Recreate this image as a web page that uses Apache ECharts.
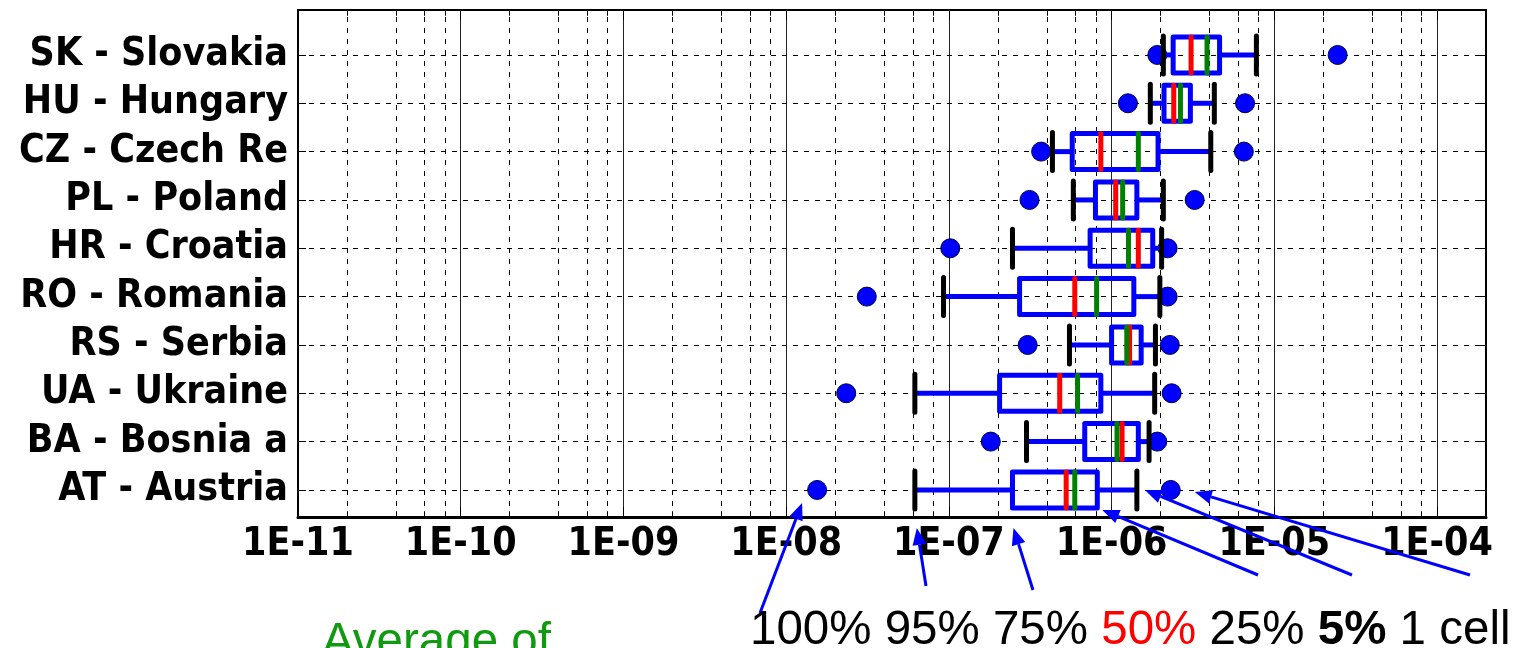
<!DOCTYPE html>
<html>
<head>
<meta charset="utf-8">
<script src="https://cdn.jsdelivr.net/npm/echarts@6/dist/echarts.min.js"></script>
<style>
html,body{margin:0;padding:0;background:#fff;}
#main{width:1517px;height:648px;}
</style>
</head>
<body>
<div id="main"></div>
<script>
// Categories (bottom to top)
const categories = ['AT - Austria','BA - Bosnia a','UA - Ukraine','RS - Serbia','RO - Romania','HR - Croatia','PL - Poland','CZ - Czech Re','HU - Hungary','SK - Slovakia'];
// Exceedance statistics per country (same order as categories)
const p100    = [1.55e-8, 1.81e-7, 2.34e-8, 3.05e-7, 3.13e-8, 1.02e-7, 3.13e-7, 3.69e-7, 1.26e-6, 1.91e-6];
const p95     = [6.18e-8, 3.00e-7, 6.18e-8, 5.51e-7, 9.27e-8, 2.46e-7, 5.82e-7, 4.33e-7, 1.73e-6, 2.08e-6];
const p75     = [2.46e-7, 6.84e-7, 2.05e-7, 1.00e-6, 2.72e-7, 7.38e-7, 7.96e-7, 5.73e-7, 2.10e-6, 2.39e-6];
const p50     = [5.26e-7, 1.16e-6, 4.80e-7, 1.29e-6, 5.94e-7, 1.46e-6, 1.06e-6, 8.59e-7, 2.41e-6, 3.08e-6];
const average = [5.94e-7, 1.08e-6, 6.18e-7, 1.24e-6, 8.09e-7, 1.27e-6, 1.17e-6, 1.46e-6, 2.65e-6, 3.86e-6];
const p25     = [8.17e-7, 1.46e-6, 8.59e-7, 1.52e-6, 1.37e-6, 1.79e-6, 1.43e-6, 1.93e-6, 3.05e-6, 4.61e-6];
const p5      = [1.43e-6, 1.70e-6, 1.84e-6, 1.86e-6, 1.98e-6, 2.03e-6, 2.08e-6, 4.07e-6, 4.28e-6, 7.76e-6];
const oneCell = [2.31e-6, 1.91e-6, 2.34e-6, 2.28e-6, 2.21e-6, 2.21e-6, 3.24e-6, 6.50e-6, 6.61e-6, 2.45e-5];
// Axis settings
const xMin = 1e-11, xMax = 2e-4;
const decades = [-11, -10, -9, -8, -7, -6, -5, -4];
const minorMultipliers = [2, 4, 6, 8];
const rowPositions = categories.map((c, i) => i + 1);
const yMin = 0.44, yMax = 10.93;

const FONT = "'DejaVu Sans Condensed', 'DejaVu Sans'";
const BLUE = '#0000ff', RED = '#ff0000', GREEN = '#008000';

const boxData = categories.map((c, i) => [p95[i], p75[i], p50[i], average[i], p25[i], p5[i], i + 1]);
const dotData = [];
categories.forEach((c, i) => { dotData.push([p100[i], i + 1]); dotData.push([oneCell[i], i + 1]); });

const minorVals = [];
decades.forEach(d => minorMultipliers.forEach(m => { const v = m * Math.pow(10, d); if (v < xMax * 0.999) minorVals.push(v); }));

function fmtX(v) {
  const l = Math.log10(v);
  const e = Math.round(l);
  if (Math.abs(l - e) > 0.01) return '';
  const a = Math.abs(e);
  return '1E' + (e < 0 ? '-' : '+') + (a < 10 ? '0' + a : '' + a);
}

function renderBox(params, api) {
  const y = api.value(6);
  const c95 = api.coord([api.value(0), y]);
  const c75 = api.coord([api.value(1), y]);
  const c50 = api.coord([api.value(2), y]);
  const cav = api.coord([api.value(3), y]);
  const c25 = api.coord([api.value(4), y]);
  const c5 = api.coord([api.value(5), y]);
  const h = 18, hc = 19;
  const lw = 5;
  const yy = c50[1];
  function vline(x, hh, color) {
    return { type: 'line', shape: { x1: x, y1: yy - hh, x2: x, y2: yy + hh }, style: { stroke: color, lineWidth: lw, lineCap: 'round' } };
  }
  return {
    type: 'group',
    children: [
      { type: 'line', shape: { x1: c95[0], y1: yy, x2: c75[0], y2: yy }, style: { stroke: BLUE, lineWidth: lw } },
      { type: 'line', shape: { x1: c25[0], y1: yy, x2: c5[0], y2: yy }, style: { stroke: BLUE, lineWidth: lw } },
      vline(c95[0], hc, '#000'),
      vline(c5[0], hc, '#000'),
      { type: 'rect', shape: { x: c75[0], y: yy - h, width: c25[0] - c75[0], height: 2 * h }, style: { fill: 'none', stroke: BLUE, lineWidth: lw, lineJoin: 'round' } },
      vline(c50[0], h, RED),
      vline(cav[0], h, GREEN)
    ]
  };
}

const chart = echarts.init(document.getElementById('main'));

const vGridSegs = minorVals.map(v => [{ coord: [v, yMin] }, { coord: [v, yMax] }]);
const hGridSegs = rowPositions.map(r => [{ coord: [xMin, r] }, { coord: [xMax, r] }]);
const tickSegs = minorVals.map(v => [{ coord: [v, yMin] }, { coord: [v, yMin + 0.12] }]);
const topTickSegs = minorVals.map(v => [{ coord: [v, yMax] }, { coord: [v, yMax - 0.12] }]);

const yAxisCommon = {
  type: 'value', min: yMin, max: yMax,
  axisLine: { show: true, lineStyle: { color: '#000', width: 2 } },
  splitLine: { show: false },
  axisTick: { show: true, inside: true, length: 8, customValues: rowPositions, lineStyle: { color: '#000', width: 1 } }
};

chart.setOption({
  animation: false,
  backgroundColor: '#fff',
  grid: { left: 298, right: 31, top: 10, bottom: 131, show: false },
  xAxis: [{
    type: 'log', logBase: 10, min: xMin, max: xMax,
    axisLine: { show: true, lineStyle: { color: '#000', width: 3 } },
    axisTick: { show: true, inside: true, length: 10, lineStyle: { color: '#000', width: 1 } },
    axisLabel: { formatter: fmtX, fontFamily: FONT, fontWeight: 'bold', fontSize: 39, color: '#000', margin: 8 },
    splitLine: { show: true, lineStyle: { color: '#222', width: 1, type: 'solid' } }
  }, {
    type: 'log', logBase: 10, min: xMin, max: xMax, position: 'top',
    axisLine: { show: true, lineStyle: { color: '#000', width: 2 } },
    axisTick: { show: true, inside: true, length: 10, lineStyle: { color: '#000', width: 1 } },
    axisLabel: { show: false }, splitLine: { show: false }
  }],
  yAxis: [Object.assign({}, yAxisCommon, {
    position: 'left',
    axisLabel: { customValues: rowPositions, formatter: v => categories[Math.round(v) - 1] || '', fontFamily: FONT, fontWeight: 'bold', fontSize: 39, color: '#000', margin: 10 }
  }), Object.assign({}, yAxisCommon, {
    position: 'right',
    axisLabel: { show: false }
  })],
  series: [
    {
      type: 'custom', name: 'box', renderItem: renderBox, data: boxData,
      encode: { x: [0, 1, 2, 3, 4, 5], y: 6 }, z: 3, clip: true
    },
    {
      type: 'scatter', name: 'dots', data: dotData, symbol: 'circle', symbolSize: 19, z: 2,
      itemStyle: { color: BLUE, borderColor: '#000040', borderWidth: 1, opacity: 1 },
      markLine: {
        silent: true, symbol: 'none', label: { show: false }, z: 1,
        lineStyle: { color: '#000', width: 1, type: [5, 6], opacity: 1 },
        emphasis: { disabled: true },
        data: vGridSegs.concat(hGridSegs)
      }
    },
    {
      type: 'scatter', name: 'ticks', data: [], silent: true,
      markLine: {
        silent: true, symbol: 'none', label: { show: false },
        lineStyle: { color: '#000', width: 1, type: 'solid', opacity: 1 },
        emphasis: { disabled: true },
        data: tickSegs.concat(topTickSegs)
      }
    }
  ]
});

// Annotation arrows pointing to the AT row's statistics
function arrow(tail, head, color) {
  const dx = head[0] - tail[0], dy = head[1] - tail[1];
  const len = Math.sqrt(dx * dx + dy * dy);
  const ux = dx / len, uy = dy / len;
  const L = 17, W = 7;
  const bx = head[0] - ux * L, by = head[1] - uy * L;
  return [
    { type: 'line', shape: { x1: tail[0], y1: tail[1], x2: bx, y2: by }, style: { stroke: color, lineWidth: 3 }, z: 10 },
    { type: 'polygon', shape: { points: [head, [bx - uy * W, by + ux * W], [bx + uy * W, by - ux * W]] }, style: { fill: color }, z: 10 }
  ];
}
const at = 0;
function px(v) { return chart.convertToPixel({ seriesIndex: 0 }, [v, at + 1]); }
const targets = [
  { v: p100[at], off: [-15, 13], tail: [760, 613] },
  { v: p95[at], off: [2, 38], tail: [926, 586] },
  { v: p75[at], off: [1, 38], tail: [1033, 590] },
  { v: p25[at], off: [5, 20], tail: [1258, 575] },
  { v: p5[at], off: [8, 0], tail: [1352, 575] },
  { v: oneCell[at], off: [24, 2], tail: [1470, 575] }
];
let graphics = [];
targets.forEach(t => {
  const p = px(t.v);
  graphics = graphics.concat(arrow(t.tail, [p[0] + t.off[0], p[1] + t.off[1]], BLUE));
});
graphics.push({
  type: 'text', left: 750, top: 607, z: 11,
  style: {
    text: '{a|100% 95% 75% }{r|50%}{a| 25% }{b|5%}{a| 1 cell}',
    rich: {
      a: { fontFamily: 'Liberation Sans', fontSize: 47.5, fill: '#000', lineHeight: 50 },
      r: { fontFamily: 'Liberation Sans', fontSize: 47.5, fill: RED, lineHeight: 50 },
      b: { fontFamily: 'Liberation Sans', fontSize: 47.5, fontWeight: 'bold', fill: '#000', lineHeight: 50 }
    }
  }
});
graphics.push({
  type: 'text', left: 322, top: 619, z: 11,
  style: { text: 'Average of', fontFamily: 'Liberation Sans', fontSize: 47.5, fill: '#109a10' }
});
chart.setOption({ graphic: graphics });
</script>
</body>
</html>
